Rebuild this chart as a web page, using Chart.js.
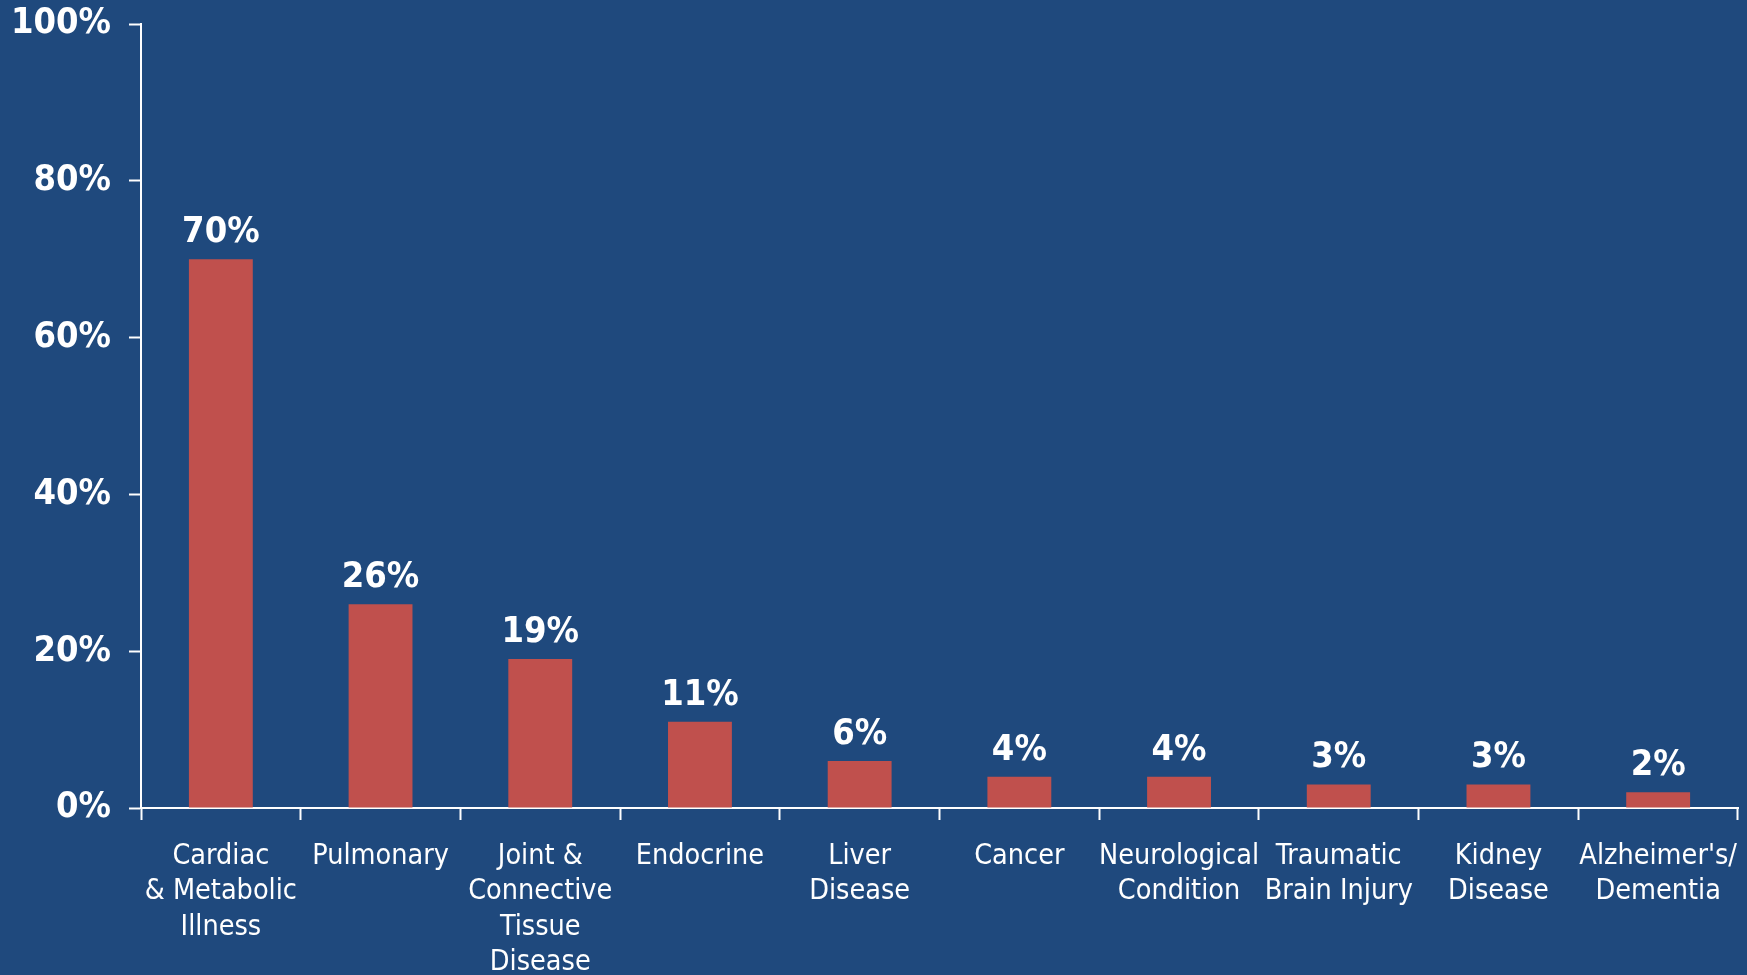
<!DOCTYPE html>
<html>
<head>
<meta charset="utf-8">
<script src="https://cdn.jsdelivr.net/npm/chart.js@4.4.1/dist/chart.umd.min.js"></script>
<style>
  html, body { margin: 0; padding: 0; background: #1F497D; }
  #wrap { width: 1747px; height: 975px; position: relative; }
</style>
</head>
<body>
<div id="wrap"><canvas id="chart" width="1747" height="975"></canvas></div>
<script>
// Conditions and share of patients with each
const categories = [
  ["Cardiac", "& Metabolic", "Illness"],
  "Pulmonary",
  ["Joint &", "Connective", "Tissue", "Disease"],
  "Endocrine",
  ["Liver", "Disease"],
  "Cancer",
  ["Neurological", "Condition"],
  ["Traumatic", "Brain Injury"],
  ["Kidney", "Disease"],
  ["Alzheimer's/", "Dementia"]
];
const percentValues = [70, 26, 19, 11, 6, 4, 4, 3, 3, 2];
const yTickValues = [0, 20, 40, 60, 80, 100];

const WHITE = "#FFFFFF";
const BAR_RED = "#C0504D";
const FAMILY = "'DejaVu Sans Condensed', 'DejaVu Sans', sans-serif";

// Writes each bar's value just above its top
const valueLabels = {
  id: "valueLabels",
  afterDatasetsDraw(chart) {
    const ctx = chart.ctx;
    const meta = chart.getDatasetMeta(0);
    ctx.save();
    ctx.fillStyle = WHITE;
    ctx.font = "bold 36px " + FAMILY;
    ctx.textAlign = "center";
    ctx.textBaseline = "alphabetic";
    meta.data.forEach((bar, i) => {
      const v = chart.data.datasets[0].data[i];
      ctx.fillText(v + "%", bar.x, bar.y - 17);
    });
    ctx.restore();
  }
};

new Chart(document.getElementById("chart"), {
  type: "bar",
  data: {
    labels: categories,
    datasets: [{
      data: percentValues,
      backgroundColor: BAR_RED,
      borderWidth: 0,
      categoryPercentage: 1.0,
      barPercentage: 0.40
    }]
  },
  options: {
    responsive: false,
    animation: false,
    devicePixelRatio: 1,
    layout: { padding: { top: 24, right: 9, left: 0, bottom: 0 } },
    plugins: {
      legend: { display: false },
      tooltip: { enabled: false }
    },
    scales: {
      x: {
        offset: true,
        grid: {
          offset: true,
          drawOnChartArea: false,
          drawTicks: true,
          tickLength: 12,
          tickWidth: 2,
          color: WHITE
        },
        border: { display: true, color: WHITE, width: 2 },
        ticks: {
          color: WHITE,
          autoSkip: false,
          maxRotation: 0,
          minRotation: 0,
          padding: 19,
          font: { family: FAMILY, size: 28.5, lineHeight: 1.24 }
        },
        afterFit(scale) {
          scale.height = 167;
          scale.paddingLeft = 0;
          scale.paddingRight = 0;
        }
      },
      y: {
        min: 0,
        max: 100,
        afterBuildTicks(scale) {
          scale.ticks = yTickValues.map(v => ({ value: v }));
        },
        grid: {
          drawOnChartArea: false,
          drawTicks: true,
          tickLength: 12,
          tickWidth: 2,
          color: WHITE
        },
        border: { display: true, color: WHITE, width: 2 },
        ticks: {
          color: WHITE,
          padding: 18,
          font: { family: FAMILY, size: 36, weight: "bold" },
          callback: v => v + "%"
        },
        afterFit(scale) {
          scale.width = 141;
          scale.paddingTop = 0;
          scale.paddingBottom = 0;
        }
      }
    }
  },
  plugins: [valueLabels]
});
</script>
</body>
</html>
